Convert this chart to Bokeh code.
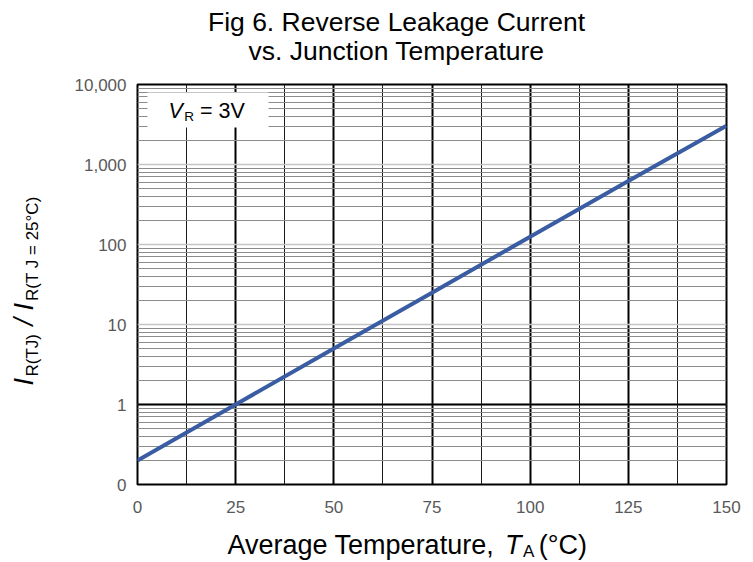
import numpy as np
from bokeh.plotting import figure
from bokeh.models import FixedTicker, Label, BoxAnnotation, Span, NumeralTickFormatter
from bokeh.embed import file_html
from bokeh.resources import INLINE

# ---- data ----
temp_c = [0, 25, 50, 75, 100, 125, 150]
leak_ratio = [0.2, 1.0, 5.0, 25.0, 125.0, 620.0, 3050.0]
x_ticks = [0, 25, 50, 75, 100, 125, 150]
x_minor_ticks = [12.5, 37.5, 62.5, 87.5, 112.5, 137.5]
y_ticks = [0.1, 1, 10, 100, 1000, 10000]
title_lines = ["Fig 6. Reverse Leakage Current", "vs. Junction Temperature"]

# ---- layout ----
W, H = 753, 562
BL, BR, BT, BB = 137, 27, 84, 78
FW, FH = W - BL - BR, H - BT - BB
FONT = "Liberation Sans"
NBSP = "\u00a0"
BASE_FIX = 0.42  # baseline correction (fraction of font size)

def xd(px):
    return (px - BL) / FW * 150.0

def yd(py):
    return 10 ** (-1 + (H - BB - py) / FH * 5.0)

ARIAL = {" ": 278, "(": 333, ")": 333, "/": 278, ",": 278, ".": 278, "=": 584, "°": 400,
         "A": 667, "C": 722, "F": 611, "I": 278, "J": 500, "L": 556, "R": 722, "T": 611, "V": 667,
         "a": 556, "c": 500, "e": 556, "g": 556, "i": 222, "k": 500, "m": 833, "n": 556,
         "o": 556, "p": 556, "r": 333, "s": 500, "t": 278, "u": 556, "v": 500}

def tw(s, size):
    return sum(ARIAL.get(c, 556) for c in s) / 1000.0 * size

p = figure(width=W, height=H, x_range=(0, 150), y_range=(0.1, 10000), y_axis_type="log",
           output_backend="svg", toolbar_location=None,
           min_border_left=BL, min_border_right=BR, min_border_top=BT, min_border_bottom=BB)
p.background_fill_color = "white"
p.border_fill_color = "white"
p.outline_line_color = "black"
p.outline_line_width = 2

y_minor_ticks = [d * k for d in [0.1, 1, 10, 100, 1000] for k in range(2, 10)]
p.xaxis.ticker = FixedTicker(ticks=x_ticks, minor_ticks=x_minor_ticks)
p.yaxis.ticker = FixedTicker(ticks=y_ticks, minor_ticks=y_minor_ticks)
p.yaxis.formatter = NumeralTickFormatter(format="0,0")

for ax in (p.xaxis, p.yaxis):
    ax.axis_line_color = None
    ax.major_tick_line_color = None
    ax.minor_tick_line_color = None
    ax.major_tick_out = 0
    ax.major_tick_in = 0
    ax.major_label_text_font = FONT
    ax.major_label_text_font_size = "17px"
    ax.major_label_text_color = "#595959"
p.xaxis.major_label_standoff = 12
p.yaxis.major_label_standoff = 7

p.xgrid.grid_line_color = "black"
p.xgrid.grid_line_width = 2
p.xgrid.minor_grid_line_color = "#1a1a1a"
p.xgrid.minor_grid_line_width = 1
p.ygrid.grid_line_color = "#c4c4c4"
p.ygrid.grid_line_width = 1.5
p.ygrid.minor_grid_line_color = "#8c8c8c"
p.ygrid.minor_grid_line_width = 1

p.add_layout(Span(location=1, dimension="width", line_color="black", line_width=2, level="underlay"))

p.line(temp_c, leak_ratio, line_color="#3a5ca2", line_width=4)

# V_R box
p.add_layout(BoxAnnotation(left=xd(147), right=xd(268), top=yd(92), bottom=yd(127),
                           fill_color="white", fill_alpha=1.0, line_color=None))


def add_label(text, px, py, size, italic=False, align="left", vertical=False, place=None):
    if vertical:
        px -= BASE_FIX * size
    else:
        py -= BASE_FIX * size
    lab = Label(x=xd(px), y=yd(py), text=text, text_font=FONT,
                text_font_size=f"{size}px", text_font_style="italic" if italic else "normal",
                text_align=align, text_baseline="alphabetic",
                angle=np.pi / 2 if vertical else 0.0, text_color="black")
    if place is None:
        p.add_layout(lab)
    else:
        p.add_layout(lab, place)


def rich_run(pieces, styles, start, base, vertical=False):
    """pieces: (text, style). Pieces of the same style are merged into one label,
    the gaps between them are filled with no-break spaces."""
    off = 0.0
    placed = []
    for text, st in pieces:
        size = styles[st]["size"]
        lead = len(text) - len(text.lstrip(" "))
        core = text.strip(" ")
        placed.append((core, st, off + tw(" " * lead, size)))
        off += tw(text, size) + (1.5 if styles[st]["italic"] else 0.0)
    groups = {}
    for core, st, pos in placed:
        size = styles[st]["size"]
        if st not in groups:
            groups[st] = [core, pos, pos + tw(core, size)]
        else:
            s, first, end = groups[st]
            n = max(1, int(round((pos - end) / tw(" ", size))))
            groups[st] = [s + NBSP * n + core, first, end + n * tw(" ", size) + tw(core, size)]
    for st, (s, first, _end) in groups.items():
        sty = styles[st]
        if vertical:
            add_label(s, base + sty["shift"], start - first, sty["size"], italic=sty["italic"],
                      vertical=True, place=sty["place"])
        else:
            add_label(s, start + first, base + sty["shift"], sty["size"], italic=sty["italic"],
                      place=sty["place"])


# V_R = 3V (inside the plot area)
vr_styles = {"it": dict(size=21.5, italic=True, shift=0, place=None),
             "sub": dict(size=13.5, italic=False, shift=2, place=None),
             "rg": dict(size=21.5, italic=False, shift=0, place=None)}
rich_run([("V", "it"), ("R", "sub"), (" = 3V", "rg")], vr_styles, 168, 120)

# title
add_label(title_lines[0], 396, 33, 26.5, align="center", place="above")
add_label(title_lines[1], 396, 62, 26.5, align="center", place="above")

# x axis label
x_styles = {"rg": dict(size=27, italic=False, shift=0, place="below"),
            "it": dict(size=27, italic=True, shift=0, place="left"),
            "sub": dict(size=17, italic=False, shift=2, place="right")}
rich_run([("Average Temperature,", "rg"), (" ", "rg"), ("T", "it"), ("A", "sub"), (" (°C)", "rg")],
         x_styles, 227, 556)

# y axis label (rotated, reads upward)
y_styles = {"big": dict(size=27, italic=True, shift=0, place="left"),
            "sub": dict(size=17, italic=False, shift=4, place="left")}
rich_run([("I", "big"), ("R(TJ)", "sub"), (" / ", "big"), ("I", "big"), ("R(T J = 25°C)", "sub")],
         y_styles, 385, 35, vertical=True)

open("out.html", "w").write(file_html(p, INLINE))
